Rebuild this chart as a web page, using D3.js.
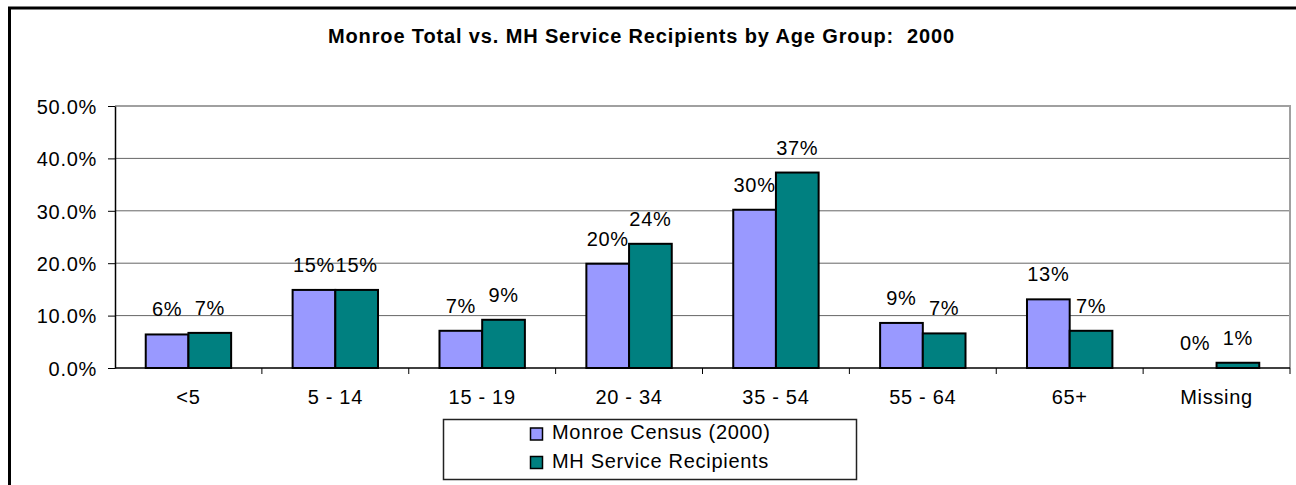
<!DOCTYPE html>
<html lang="en">
<head>
    <meta charset="UTF-8">
    <title>Monroe Total vs. MH Service Recipients by Age Group: 2000</title>
    <script src="https://cdnjs.cloudflare.com/ajax/libs/d3/7.8.5/d3.min.js"></script>
    <style>
        html, body { margin: 0; padding: 0; background: #fff; }
        svg { display: block; font-family: "Liberation Sans", Arial, sans-serif; }
        .lbl { font-size: 20px; letter-spacing: 0.7px; fill: #000; }
    </style>
</head>
<body>
<svg width="1296" height="485"></svg>

<script>
    // Data (percent of population)
    const categories = ["<5", "5 - 14", "15 - 19", "20 - 34", "35 - 54", "55 - 64", "65+", "Missing"];
    const series = ["Monroe Census (2000)", "MH Service Recipients"];
    const census = [6.4, 14.9, 7.1, 19.9, 30.2, 8.6, 13.1, 0];
    const mhRecipients = [6.7, 14.9, 9.2, 23.7, 37.3, 6.6, 7.1, 1.0];
    const yTicks = [0, 0.1, 0.2, 0.3, 0.4, 0.5];
    const colors = ["#9999ff", "#008080"];

    const svg = d3.select("svg");

    // outer chart border, runs off the right and bottom of the picture
    svg.append("rect")
        .attr("x", 9.5).attr("y", 8)
        .attr("width", 1400).attr("height", 600)
        .attr("fill", "none").attr("stroke", "#000").attr("stroke-width", 3);

    svg.append("text")
        .attr("x", 328).attr("y", 43)
        .attr("textLength", 626).attr("lengthAdjust", "spacing")
        .style("font-size", "20px").style("font-weight", "bold")
        .text("Monroe Total vs. MH Service Recipients by Age Group:\u00a0\u00a02000");

    const plotLeft = 115, plotRight = 1290, plotTop = 106, plotBottom = 368;

    const x0 = d3.scaleBand().domain(categories).range([plotLeft, plotRight]);
    const x1 = d3.scaleBand().domain(series).range([0, x0.bandwidth()]).paddingOuter(0.72);
    const y = d3.scaleLinear().domain([0, 0.5]).range([plotBottom, plotTop]);

    // gridlines
    svg.append("g")
        .selectAll("line")
        .data(yTicks.slice(1, -1))
        .join("line")
        .attr("x1", plotLeft).attr("x2", plotRight)
        .attr("y1", d => y(d)).attr("y2", d => y(d))
        .attr("stroke", "#666").attr("stroke-width", 1);

    // plot area border (top and right)
    svg.append("path")
        .attr("d", `M${plotLeft},${plotTop}H${plotRight}V${plotBottom}`)
        .attr("fill", "none").attr("stroke", "#a0a0a0").attr("stroke-width", 2);

    const rows = categories.map((c, i) => ({ cat: c, vals: [census[i], mhRecipients[i]] }));

    const groups = svg.append("g")
        .selectAll("g")
        .data(rows)
        .join("g")
        .attr("transform", d => `translate(${x0(d.cat)},0)`);

    groups.selectAll("rect")
        .data(d => d.vals.map((v, j) => ({ s: series[j], v: v, j: j })).filter(e => e.v > 0))
        .join("rect")
        .attr("x", d => x1(d.s))
        .attr("width", x1.bandwidth())
        .attr("y", d => y(d.v / 100))
        .attr("height", d => plotBottom - y(d.v / 100))
        .attr("fill", d => colors[d.j])
        .attr("stroke", "#000").attr("stroke-width", 2);

    const pct = d3.format(".0%");
    groups.selectAll("text")
        .data(d => d.vals.map((v, j) => ({ s: series[j], v: v })))
        .join("text")
        .attr("class", "lbl")
        .attr("x", d => x1(d.s) + x1.bandwidth() / 2)
        .attr("y", d => y(d.v / 100) - 18)
        .attr("text-anchor", "middle")
        .text(d => pct(d.v / 100));

    // y axis
    const yAxis = svg.append("g")
        .attr("transform", `translate(${plotLeft},0)`)
        .call(d3.axisLeft(y).tickValues(yTicks).tickFormat(d3.format(".1%")).tickSize(7).tickPadding(11).tickSizeOuter(0));
    yAxis.select(".domain").attr("stroke", "#000").attr("stroke-width", 1.5);
    yAxis.selectAll(".tick line").attr("stroke", "#000");
    yAxis.selectAll(".tick text").attr("class", "lbl").attr("dy", "0.36em");

    // x axis: ticks at category boundaries
    const xAxis = svg.append("g");
    xAxis.append("line")
        .attr("x1", plotLeft).attr("x2", plotRight)
        .attr("y1", plotBottom).attr("y2", plotBottom)
        .attr("stroke", "#000").attr("stroke-width", 1.5);
    xAxis.selectAll("line.tk")
        .data(categories.slice(1).map(c => x0(c)).concat([plotRight]))
        .join("line")
        .attr("class", "tk")
        .attr("x1", d => d).attr("x2", d => d)
        .attr("y1", plotBottom).attr("y2", plotBottom + 6)
        .attr("stroke", "#000");
    xAxis.selectAll("text")
        .data(categories)
        .join("text")
        .attr("class", "lbl")
        .attr("x", d => x0(d) + x0.bandwidth() / 2)
        .attr("y", 404)
        .attr("text-anchor", "middle")
        .text(d => d);

    // legend
    const legend = svg.append("g");
    legend.append("rect")
        .attr("x", 443.5).attr("y", 419.5)
        .attr("width", 413).attr("height", 60)
        .attr("fill", "#fff").attr("stroke", "#222").attr("stroke-width", 1.5);
    const items = legend.selectAll("g")
        .data(series)
        .join("g")
        .attr("transform", (d, i) => `translate(0,${i * 28.5})`);
    items.append("rect")
        .attr("x", 530.5).attr("y", 428)
        .attr("width", 12).attr("height", 12)
        .attr("fill", (d, i) => colors[i])
        .attr("stroke", "#000").attr("stroke-width", 1.5);
    items.append("text")
        .attr("class", "lbl")
        .attr("x", 552).attr("y", 439)
        .text(d => d);
</script>
</body>
</html>
